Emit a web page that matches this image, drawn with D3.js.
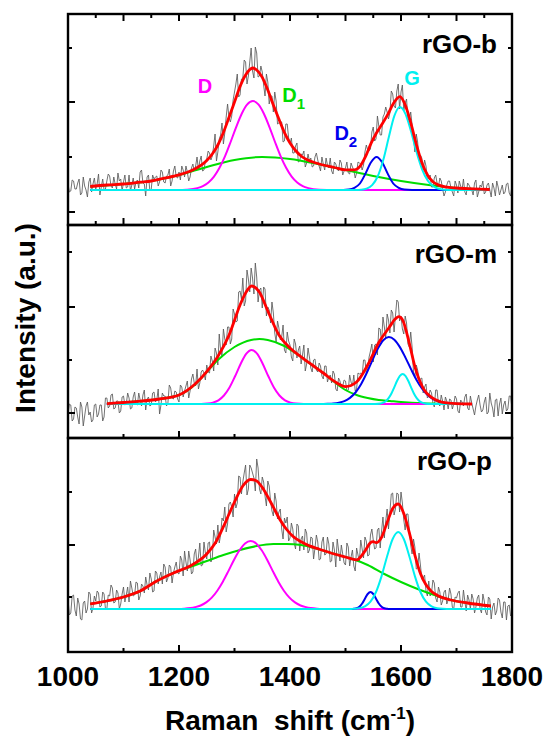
<!DOCTYPE html>
<html>
<head>
<meta charset="utf-8">
<script src="https://cdn.jsdelivr.net/npm/d3@7"></script>
<style>
  html, body { margin: 0; padding: 0; background: #fff; }
  svg { display: block; font-family: "Liberation Sans", Arial, sans-serif; font-weight: bold; }
</style>
</head>
<body>
<svg id="chart" width="547" height="736"></svg>
<script>
// tres espectros raman (rGO) com ajuste de picos D, D1, D2, G
const SAMPLES = ["rGO-b", "rGO-m", "rGO-p"];

// eixo x
const X_DOMAIN = [1000, 1800];
const X_LABELS = [1000, 1200, 1400, 1600, 1800];
const X_MINOR = [1100, 1300, 1500, 1700];
const X_TOP_MAJOR = [1100, 1200, 1300, 1400, 1500, 1600, 1700];
const X_TOP_MINOR = [1050, 1150, 1250, 1350, 1450, 1550, 1650, 1750];

// eixo y (a.u., zero = linha de base do ajuste)
const Y_DOMAINS = [[-35, 176], [-34, 179], [-43, 171]];
const Y_MAJOR = [[-22, 88], [-9, 97], [64]];
const Y_MINOR = [[33, 142], [44, 152], [12, 117]];

// espectro medido, 1000..1800 a cada 2,5 cm-1
const RAW_STEP = 2.5;
const RAW_B = [
  6, -2, -1, 10, 9, 1, 1, 7, 11, -5, -3, 13, 4, 0, -7, 8, 12, -2, 6, 12,
  1, 6, 16, -5, 3, 11, 0, 1, 9, 16, 14, 4, 2, 13, 6, 1, 17, 9, 11, -1,
  8, 15, 2, 3, 15, -1, 5, 12, 1, 8, 10, 2, 18, 20, 7, 6, -6, 13, 15, -1,
  1, 15, 11, 13, 14, 4, 8, 20, 18, 8, 7, 14, 15, 21, 4, 9, 19, 24, 13, 12,
  18, 10, 24, 20, 13, 24, 18, 9, 13, 22, 26, 19, 24, 33, 20, 29, 34, 19, 20, 29,
  31, 39, 37, 30, 34, 44, 56, 29, 38, 51, 55, 67, 46, 57, 73, 86, 73, 68, 74, 90,
  98, 106, 116, 93, 95, 111, 112, 130, 128, 106, 114, 128, 142, 119, 112, 143, 137, 113, 114, 124,
  118, 105, 94, 116, 108, 86, 94, 94, 78, 98, 89, 66, 67, 69, 68, 48, 49, 66, 66, 52,
  46, 52, 37, 37, 44, 47, 28, 29, 36, 35, 39, 23, 27, 36, 29, 32, 23, 24, 33, 37,
  30, 24, 19, 33, 26, 20, 32, 25, 22, 32, 19, 16, 28, 26, 21, 19, 30, 27, 15, 19,
  22, 28, 17, 16, 27, 23, 20, 12, 17, 28, 27, 26, 20, 25, 38, 45, 40, 39, 41, 58,
  63, 49, 51, 74, 64, 55, 55, 73, 76, 83, 78, 71, 77, 99, 96, 84, 82, 99, 106, 81,
  98, 105, 79, 87, 91, 70, 71, 78, 65, 52, 38, 56, 48, 30, 35, 32, 20, 30, 24, 10,
  12, 15, 3, 3, 12, 15, 7, 3, 12, 9, 1, -6, -2, 5, 9, 9, 2, -2, -6, 9,
  5, -3, 9, 4, 0, 11, -2, -5, 7, 5, 2, 0, -5, 7, 10, -7, -2, 5, 3, 9,
  -4, -2, 5, 7, 0, -7, 7, 2, -6, 9, 3, -5, 0, 5, -4, -2, 6, 7, -3, -6,
  5,
];
const RAW_M = [
  -10, 0, -1, -17, -15, -3, -4, -13, -20, 2, -3, -22, -12, -2, 2, -11, -8, -18, -16, -1,
  0, -13, -10, -1, -1, -17, -13, 6, 6, -4, -2, 9, 10, -5, -4, 3, 3, -9, -7, 7,
  8, -1, 0, 11, 6, -5, -4, 7, 12, 0, -1, 11, 4, -2, 9, 14, -6, 5, 7, -2,
  -1, 11, 12, 2, 4, 15, -10, -1, 11, 8, 8, -2, 1, 19, 16, 6, 5, 13, 12, 5,
  2, 19, 17, 7, 13, 18, 23, 6, 13, 25, 30, 21, 18, 35, 15, 21, 32, 34, 31, 24,
  39, 32, 31, 48, 43, 33, 56, 51, 39, 70, 54, 48, 75, 65, 59, 77, 77, 60, 65, 95,
  90, 82, 83, 112, 113, 105, 126, 98, 103, 134, 125, 112, 136, 126, 110, 141, 127, 102, 114, 116,
  96, 117, 115, 88, 97, 94, 81, 102, 91, 71, 62, 83, 76, 64, 67, 79, 54, 51, 72, 63,
  59, 47, 43, 65, 60, 46, 54, 58, 40, 49, 59, 33, 40, 56, 47, 36, 32, 44, 45, 34,
  32, 41, 38, 28, 25, 38, 38, 22, 27, 29, 21, 33, 30, 15, 13, 26, 23, 16, 18, 24,
  23, 13, 14, 29, 22, 18, 29, 13, 15, 31, 30, 31, 28, 44, 44, 31, 35, 47, 53, 60,
  42, 59, 60, 49, 76, 75, 61, 87, 77, 66, 90, 84, 71, 94, 91, 72, 88, 104, 102, 83,
  88, 75, 70, 88, 81, 60, 57, 72, 57, 32, 28, 39, 34, 24, 25, 26, 11, 17, 20, 6,
  8, 14, 11, 1, -3, 14, 14, 0, -2, 9, 3, -6, 7, 3, -5, 5, 4, -5, 0, 8,
  5, -7, -9, 4, 2, -2, 7, 10, -4, -6, 8, 1, -5, -11, -2, 4, 9, -1, -8, -6,
  2, 7, -10, -8, 11, 1, -4, -13, 4, 5, -12, 0, 6, -10, -1, 3, -7, -5, 8, 8,
  -5,
];
const RAW_P = [
  10, -6, -4, 13, 14, -1, -7, 11, 5, -10, -11, 6, 8, -4, 0, 17, 15, -4, 1, 13,
  8, 18, 16, 2, 3, 17, 15, 0, 0, 14, 13, 24, 21, 6, 7, 19, 16, 0, 5, 15,
  22, 7, 14, 22, 7, 28, 21, 13, 14, 27, 26, 9, 13, 25, 23, 16, 32, 24, 19, 36,
  30, 17, 18, 38, 36, 25, 32, 37, 25, 45, 42, 27, 31, 44, 42, 26, 36, 42, 47, 36,
  35, 53, 49, 33, 58, 47, 38, 58, 49, 35, 37, 55, 60, 44, 52, 66, 43, 44, 67, 56,
  50, 66, 67, 47, 51, 79, 72, 65, 84, 66, 74, 91, 88, 102, 77, 85, 105, 107, 102, 92,
  115, 101, 106, 133, 132, 115, 127, 136, 144, 114, 120, 144, 141, 136, 131, 118, 150, 141, 120, 115,
  132, 127, 113, 103, 128, 123, 108, 98, 93, 116, 108, 90, 97, 100, 80, 70, 91, 86, 92, 68,
  71, 86, 80, 66, 60, 85, 83, 58, 70, 73, 59, 80, 76, 56, 59, 72, 71, 50, 61, 74,
  67, 49, 50, 67, 72, 54, 55, 72, 65, 47, 48, 67, 59, 42, 70, 59, 48, 64, 55, 46,
  44, 66, 62, 43, 52, 59, 43, 38, 61, 54, 48, 69, 60, 51, 72, 68, 53, 54, 74, 80,
  69, 60, 61, 79, 81, 61, 78, 92, 71, 88, 100, 80, 97, 115, 116, 94, 100, 116, 115, 97,
  117, 106, 89, 79, 95, 95, 79, 64, 55, 70, 62, 40, 41, 56, 44, 30, 31, 34, 18, 13,
  28, 13, 16, 29, 26, 11, 7, 22, 17, 4, 8, 17, 19, 5, 9, 21, 15, 2, 0, 12,
  11, 16, 18, 2, 2, 19, 8, -2, 14, 9, 0, 15, 10, -4, 2, 11, 14, 0, -4, 15,
  8, -3, -6, 12, 10, -10, 2, 6, -6, -2, 11, 9, -3, -9, 7, 7, -11, 3, 4, -7,
  -5,
];

// componentes do ajuste [cm-1, a.u.]
const FIT_B = [
  [1040, 3.5], [1070, 5], [1100, 6], [1130, 7.8], [1150, 9], [1170, 11.4], [1200, 15.1], [1215, 17.7],
  [1230, 21.5], [1240, 24.8], [1250, 29.5], [1260, 36], [1270, 45], [1280, 57.5], [1290, 72.5],
  [1300, 88], [1310, 103.5], [1320, 115], [1333, 122], [1340, 120], [1350, 112.6], [1360, 100],
  [1370, 85], [1380, 71], [1390, 57.4], [1400, 47], [1410, 39.5], [1420, 34], [1430, 30.4],
  [1450, 26.5], [1480, 22.5], [1500, 20.1], [1516, 20.2], [1526, 23.6], [1536, 33.3], [1546, 46.6],
  [1556, 57.3], [1566, 65.9], [1576, 75.3], [1586, 86.2], [1598, 93.4], [1608, 84.5], [1618, 66.3],
  [1628, 44.8], [1638, 26.7], [1648, 14.7], [1658, 8], [1668, 4.9], [1680, 3.1], [1700, 2],
  [1730, 1.2], [1760, 0.5],
];
const D_B = [
  [1040, 0], [1200, 0], [1213, 0.3], [1233, 1.9], [1243, 3.9], [1253, 7.5], [1263, 13.4], [1273, 22.2],
  [1283, 33.9], [1293, 48], [1303, 62.9], [1313, 76.3], [1323, 85.6], [1333, 89], [1343, 85.6],
  [1353, 76.3], [1363, 62.9], [1373, 48], [1383, 33.9], [1393, 22.2], [1403, 13.4], [1413, 7.5],
  [1423, 3.9], [1433, 1.9], [1453, 0.3], [1480, 0], [1760, 0],
];
const D1_B = [
  [1040, 3.5], [1100, 6], [1150, 9], [1200, 15], [1250, 23], [1300, 30], [1350, 33], [1400, 31],
  [1450, 26], [1500, 20], [1550, 14], [1600, 9], [1650, 5], [1700, 2], [1760, 0.5],
];
const D2_B = [
  [1040, 0], [1496, 0], [1506, 0.4], [1516, 2.1], [1526, 6.5], [1536, 16.4], [1546, 27.8], [1556, 33],
  [1566, 27.8], [1576, 16.4], [1586, 6.5], [1596, 2.1], [1606, 0.4], [1620, 0], [1760, 0],
];
const G_B = [
  [1040, 0], [1518, 0], [1528, 0.3], [1538, 1.4], [1548, 4.9], [1558, 13.5], [1568, 29.9], [1578, 52.7],
  [1588, 74.1], [1598, 83], [1608, 76.1], [1618, 58.7], [1628, 38], [1638, 20.7], [1648, 9.5],
  [1658, 3.7], [1668, 1.2], [1678, 0.3], [1690, 0], [1760, 0],
];

const FIT_M = [
  [1070, 0.3], [1100, 1.5], [1130, 2.8], [1165, 5], [1200, 9], [1230, 20.5], [1250, 32.4], [1270, 47.5],
  [1290, 68.6], [1310, 99], [1320, 111], [1331, 118], [1345, 111.7], [1360, 93], [1380, 69], [1400, 56],
  [1420, 47.2], [1440, 39], [1460, 31], [1480, 22.6], [1500, 17.4], [1520, 22], [1540, 39],
  [1560, 61.5], [1578, 76], [1590, 85.2], [1596, 87.4], [1603, 83.9], [1615, 60.7], [1625, 37.3],
  [1640, 15.7], [1655, 6.6], [1670, 2.4], [1685, 0.9], [1700, 0.3], [1728, 0],
];
const D_M = [
  [1070, 0], [1240, 0], [1251, 0.4], [1261, 1.4], [1271, 3.7], [1281, 8.5], [1291, 16.5], [1301, 27.7],
  [1311, 40], [1321, 50.1], [1331, 54], [1341, 50.1], [1351, 40], [1361, 27.7], [1371, 16.5],
  [1381, 8.5], [1391, 3.7], [1401, 1.4], [1411, 0.4], [1425, 0], [1728, 0],
];
const D1_M = [
  [1070, 0.3], [1100, 1.5], [1150, 4], [1200, 9], [1230, 20], [1250, 32], [1270, 44], [1300, 57],
  [1330, 64], [1345, 65], [1360, 64], [1390, 58], [1420, 47], [1440, 39], [1460, 31], [1480, 22],
  [1500, 14], [1520, 9], [1540, 6], [1560, 4], [1580, 3], [1600, 2], [1640, 0.7], [1680, 0.2], [1728, 0],
];
const D2_M = [
  [1070, 0], [1455, 0], [1468, 0.2], [1478, 0.5], [1488, 1.3], [1498, 2.9], [1508, 6.1], [1518, 11.5],
  [1528, 19.8], [1538, 30.7], [1548, 43.2], [1558, 55.1], [1568, 63.8], [1578, 67], [1588, 64.3],
  [1598, 56.9], [1608, 46.4], [1618, 34.9], [1628, 24.1], [1638, 15.4], [1648, 9.1], [1658, 4.9],
  [1668, 2.5], [1678, 1.1], [1698, 0.2], [1728, 0],
];
const G_M = [
  [1070, 0], [1553, 0], [1563, 0.5], [1568, 1.4], [1573, 3.1], [1578, 6.1], [1583, 10.8], [1588, 16.9],
  [1593, 23.3], [1598, 28.1], [1603, 30], [1608, 28.1], [1613, 23.3], [1618, 16.9], [1623, 10.8],
  [1628, 6.1], [1633, 3.1], [1638, 1.4], [1643, 0.5], [1653, 0], [1728, 0],
];

const FIT_P = [
  [1040, 5], [1070, 8], [1100, 12], [1130, 18], [1160, 28], [1190, 36], [1220, 43], [1250, 55],
  [1265, 65.7], [1280, 82.3], [1290, 94.7], [1300, 107], [1315, 123], [1329, 129.5], [1340, 128.1],
  [1350, 121.6], [1360, 112.2], [1370, 101.8], [1382, 89.3], [1394, 79.5], [1407, 71.9], [1420, 67.3],
  [1435, 63.1], [1450, 60.3], [1480, 55], [1500, 52], [1520, 49.1], [1535, 57.9], [1545, 66.3],
  [1550, 67.4], [1555, 66.3], [1565, 71.7], [1575, 86.5], [1585, 100.5], [1595, 105], [1605, 95.5],
  [1615, 76.3], [1625, 53.9], [1635, 35.5], [1645, 24.3], [1655, 17.6], [1665, 13.8], [1690, 9],
  [1720, 6], [1762, 3],
];
const D_P = [
  [1040, 0], [1180, 0], [1199, 0.1], [1209, 0.35], [1229, 1.8], [1239, 3.5], [1249, 6.6], [1259, 11.4],
  [1269, 18.3], [1279, 27.3], [1289, 37.9], [1299, 49], [1309, 58.7], [1319, 65.6], [1329, 68],
  [1339, 65.6], [1349, 58.7], [1359, 49], [1369, 37.9], [1379, 27.3], [1389, 18.3], [1399, 11.4],
  [1409, 6.6], [1419, 3.5], [1429, 1.8], [1449, 0.35], [1459, 0.1], [1480, 0], [1762, 0],
];
const D1_P = [
  [1040, 5], [1070, 8], [1100, 12], [1130, 18], [1160, 28], [1190, 36], [1220, 42], [1250, 48],
  [1280, 54], [1310, 59], [1340, 63], [1370, 65], [1394, 65], [1420, 64], [1450, 60], [1480, 55],
  [1513, 50], [1540, 44], [1570, 35], [1600, 27], [1630, 20], [1660, 14], [1690, 9], [1720, 6], [1762, 3],
];
const D2_P = [
  [1040, 0], [1510, 0], [1515, 0.2], [1520, 0.75], [1525, 2.3], [1530, 5.5], [1535, 10.3], [1540, 15],
  [1545, 17], [1550, 15], [1555, 10.3], [1560, 5.5], [1565, 2.3], [1570, 0.75], [1575, 0.2], [1580, 0],
  [1762, 0],
];
const G_P = [
  [1040, 0], [1510, 0], [1515, 0.2], [1525, 0.75], [1535, 2.6], [1545, 7.3], [1555, 17], [1565, 32.9],
  [1575, 52.8], [1585, 70], [1595, 77], [1605, 70], [1615, 52.8], [1625, 32.9], [1635, 17], [1645, 7.3],
  [1655, 2.6], [1665, 0.75], [1675, 0.2], [1690, 0], [1762, 0],
];

// rotulos dos picos (so no painel de cima), posicao em cm-1 / a.u.
const PEAK_NAMES = ["D", "D", "D", "G"];
const PEAK_SUBS = ["", "1", "2", ""];
const PEAK_X = [1234, 1386, 1480, 1606];
const PEAK_Y = [97, 88, 50, 105];

const COLORS = { raw: "#5a5a5a", D: "#ff00ff", D1: "#00dd00", D2: "#0000ee", G: "#00f0f0", fit: "#ff0000" };
const PEAK_COLORS = [COLORS.D, COLORS.D1, COLORS.D2, COLORS.G];

const panels = [
  { raw: RAW_B, fit: FIT_B, D: D_B, D1: D1_B, D2: D2_B, G: G_B },
  { raw: RAW_M, fit: FIT_M, D: D_M, D1: D1_M, D2: D2_M, G: G_M },
  { raw: RAW_P, fit: FIT_P, D: D_P, D1: D1_P, D2: D2_P, G: G_P },
];

const LEFT = 68;
const RIGHT = 512;
const TOPS = [14, 225, 438];
const BOTTOMS = [225, 438, 652];
const MAJOR_LEN = 7;
const MINOR_LEN = 4;

const svg = d3.select("#chart");
const x = d3.scaleLinear().domain(X_DOMAIN).range([LEFT, RIGHT]);

panels.forEach((p, i) => {
  const top = TOPS[i];
  const bottom = BOTTOMS[i];
  const y = d3.scaleLinear().domain(Y_DOMAINS[i]).range([bottom, top]);
  const g = svg.append("g");

  const clipId = `clip${i}`;
  g.append("clipPath").attr("id", clipId)
    .append("rect").attr("x", LEFT).attr("y", top).attr("width", RIGHT - LEFT).attr("height", bottom - top);

  const plot = g.append("g").attr("clip-path", `url(#${clipId})`);

  const rawLine = d3.line().x((d, j) => x(X_DOMAIN[0] + j * RAW_STEP)).y((d) => y(d));
  plot.append("path").datum(p.raw)
    .attr("d", rawLine).attr("fill", "none").attr("stroke", COLORS.raw)
    .attr("stroke-width", 0.85).attr("stroke-linejoin", "round");

  const fitLine = d3.line().x((d) => x(d[0])).y((d) => y(d[1])).curve(d3.curveMonotoneX);
  const order = [["D1", 2], ["D", 2], ["D2", 2], ["G", 2], ["fit", 2.8]];
  for (const [key, w] of order) {
    plot.append("path").datum(p[key])
      .attr("d", fitLine).attr("fill", "none").attr("stroke", COLORS[key])
      .attr("stroke-width", w).attr("stroke-linejoin", "round");
  }

  // ticks y (esquerda e direita, para dentro)
  const yt = g.append("g").attr("stroke", "#000").attr("stroke-width", 2);
  for (const [vals, len] of [[Y_MAJOR[i], MAJOR_LEN], [Y_MINOR[i], MINOR_LEN]]) {
    for (const v of vals) {
      yt.append("line").attr("x1", LEFT).attr("x2", LEFT + len).attr("y1", y(v)).attr("y2", y(v));
      yt.append("line").attr("x1", RIGHT).attr("x2", RIGHT - len).attr("y1", y(v)).attr("y2", y(v));
    }
  }

  // ticks x
  const xt = g.append("g").attr("stroke", "#000").attr("stroke-width", 2);
  const bottomTicks = i === 0 ? [[X_TOP_MAJOR, MAJOR_LEN], [X_TOP_MINOR, MINOR_LEN]] : [[X_LABELS, MAJOR_LEN], [X_MINOR, MINOR_LEN]];
  for (const [vals, len] of bottomTicks) {
    for (const v of vals) {
      xt.append("line").attr("x1", x(v)).attr("x2", x(v)).attr("y1", bottom).attr("y2", bottom - len);
    }
  }
  if (i === 0) {
    for (const [vals, len] of [[X_TOP_MAJOR, MAJOR_LEN], [X_TOP_MINOR, MINOR_LEN]]) {
      for (const v of vals) {
        xt.append("line").attr("x1", x(v)).attr("x2", x(v)).attr("y1", top).attr("y2", top + len);
      }
    }
  }

  g.append("rect")
    .attr("x", LEFT).attr("y", top).attr("width", RIGHT - LEFT).attr("height", bottom - top)
    .attr("fill", "none").attr("stroke", "#000").attr("stroke-width", 2.4);

  g.append("text")
    .attr("x", RIGHT - (i === 2 ? 20 : 15)).attr("y", top + (i === 0 ? 39 : 38) + (i === 2 ? -6 : 0))
    .attr("text-anchor", "end").attr("font-size", 26).attr("fill", "#000")
    .text(SAMPLES[i]);

  if (i === 0) {
    PEAK_NAMES.forEach((name, k) => {
      const t = g.append("text")
        .attr("x", x(PEAK_X[k])).attr("y", y(PEAK_Y[k]))
        .attr("font-size", 20).attr("fill", PEAK_COLORS[k]);
      t.append("tspan").text(name);
      if (PEAK_SUBS[k]) {
        t.append("tspan").attr("dy", 7).attr("font-size", 15).text(PEAK_SUBS[k]);
      }
    });
  }
});

// rotulos do eixo x
svg.append("g").selectAll("text").data(X_LABELS).join("text")
  .attr("x", (d) => x(d)).attr("y", 686)
  .attr("text-anchor", "middle").attr("font-size", 28).attr("fill", "#000")
  .text((d) => d);

const xTitle = svg.append("text")
  .attr("x", (LEFT + RIGHT) / 2).attr("y", 730)
  .attr("text-anchor", "middle").attr("font-size", 28).attr("fill", "#000")
  .style("white-space", "pre");
xTitle.append("tspan").text("Raman  shift (cm");
xTitle.append("tspan").attr("dy", -11).attr("font-size", 17).text("-1");
xTitle.append("tspan").attr("dy", 11).text(")");

svg.append("text")
  .attr("transform", `translate(35,${318}) rotate(-90)`)
  .attr("text-anchor", "middle").attr("font-size", 28).attr("fill", "#000")
  .text("Intensity (a.u.)");
</script>
</body>
</html>
